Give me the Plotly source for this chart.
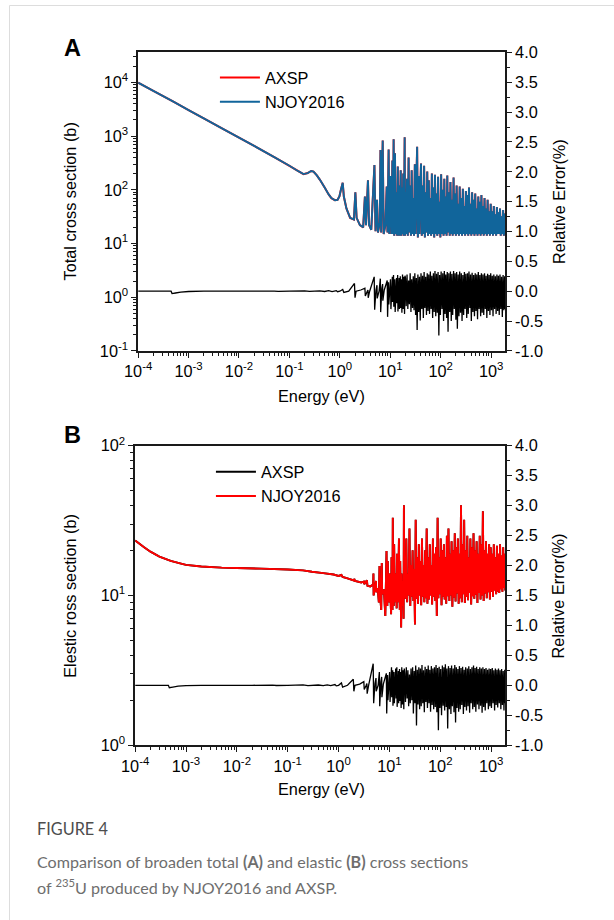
import plotly.graph_objects as go

# ---------------- data ----------------
tick_E = [1e-4, 1e-3, 1e-2, 1e-1, 1e0, 1e1, 1e2, 1e3]
tick_E_text = ["10<sup>-4</sup>", "10<sup>-3</sup>", "10<sup>-2</sup>", "10<sup>-1</sup>",
               "10<sup>0</sup>", "10<sup>1</sup>", "10<sup>2</sup>", "10<sup>3</sup>"]
tick_A_left = [1e-1, 1e0, 1e1, 1e2, 1e3, 1e4]
tick_A_left_text = ["10<sup>-1</sup>", "10<sup>0</sup>", "10<sup>1</sup>", "10<sup>2</sup>",
                    "10<sup>3</sup>", "10<sup>4</sup>"]
tick_B_left = [1e0, 1e1, 1e2]
tick_B_left_text = ["10<sup>0</sup>", "10<sup>1</sup>", "10<sup>2</sup>"]
tick_err = [-1.0, -0.5, 0.0, 0.5, 1.0, 1.5, 2.0, 2.5, 3.0, 3.5, 4.0]
tick_err_text = ["-1.0", "-0.5", "0.0", "0.5", "1.0", "1.5", "2.0", "2.5", "3.0", "3.5", "4.0"]

# --- panel A: total cross section (b) ---
e_smooth_a = [1e-4, 2e-4, 5e-4, 1e-3, 2e-3, 5e-3, 0.01, 0.02, 0.05, 0.1, 0.15, 0.19,
              0.23, 0.27, 0.3, 0.35, 0.4, 0.5, 0.6, 0.68, 0.8, 0.9, 0.98]
xs_smooth_a = [9900, 6960, 4370, 3050, 2140, 1330, 935, 655, 406, 280, 222, 196,
               205, 224, 218, 185, 155, 110, 82, 70, 64, 65, 75]

e_low_res = [1.05, 1.14, 1.2, 1.35, 1.6, 1.9, 2.03, 2.15, 2.5, 2.9, 3.14, 3.3, 3.61, 3.8,
             4.2, 4.85, 5.1, 5.45, 5.7, 6.2, 6.39, 6.6, 7.08, 7.4, 8.0, 8.5, 8.8, 9.28,
             9.6, 10.2, 10.6, 11.0, 11.3, 11.66, 12.0, 12.4, 12.8, 13.3, 13.7, 14.1,
             14.5, 15.0, 15.4, 16.1, 16.6, 17.1, 17.6, 18.1, 18.6, 19.3, 19.6]
xs_low_res_a = [100, 135, 75, 45, 30, 28, 90, 30, 22, 20, 75, 22, 150, 22,
                18, 290, 17, 65, 16, 25, 550, 16, 830, 15, 22, 115, 16, 560,
                15, 180, 15, 350, 15, 870, 14, 480, 15, 90, 14, 270,
                14, 120, 14, 230, 14, 110, 15, 200, 14, 950, 14]

e_dense = [20.0, 20.7, 21.5, 22.3, 23.1, 23.9, 24.8, 25.7, 26.6, 27.6,
           28.6, 29.6, 30.7, 31.8, 32.9, 34.1, 35.3, 36.6, 37.9, 39.3,
           40.7, 42.2, 43.7, 45.3, 46.9, 48.6, 50.4, 52.2, 54.1, 56.0,
           58.0, 60.1, 62.3, 64.5, 66.8, 69.2, 71.7, 74.3, 77.0, 79.8,
           82.7, 85.6, 88.7, 91.9, 95.2, 98.6, 102, 106, 110, 114,
           118, 122, 126, 131, 135, 140, 145, 151, 156, 162,
           167, 173, 180, 186, 193, 200, 207, 214, 222, 230,
           238, 247, 256, 265, 275, 285, 295, 305, 316, 328,
           340, 352, 364, 378, 391, 405, 420, 435, 451, 467,
           484, 501, 519, 538, 557, 577, 598, 620, 642, 665,
           689, 714, 740, 766, 794, 822, 852, 883, 914, 947,
           981, 1016, 1053, 1091, 1130, 1171, 1213, 1257, 1302, 1349,
           1397, 1448, 1500, 1554, 1610, 1668, 1728, 1790, 1855, 1900]
xs_dense_a = [90, 15, 160, 14, 400, 16, 120, 14, 230, 15,
              70, 14, 300, 15, 140, 630, 13, 180, 15, 95,
              310, 14, 120, 15, 280, 13, 90, 16, 220, 14,
              150, 15, 70, 14, 200, 15, 110, 13, 190, 15,
              85, 14, 175, 15, 60, 13, 195, 15, 100, 14,
              160, 15, 75, 14, 185, 16, 90, 14, 140, 15,
              65, 14, 170, 15, 85, 14, 120, 15, 55, 14,
              115, 15, 70, 14, 105, 15, 50, 14, 95, 15,
              80, 14, 110, 15, 55, 14, 90, 15, 65, 14,
              85, 15, 45, 14, 75, 15, 60, 14, 80, 15,
              50, 14, 70, 15, 45, 14, 65, 15, 40, 14,
              55, 15, 40, 14, 50, 15, 35, 14, 48, 15,
              38, 15, 45, 14, 32, 15, 42, 14, 36, 15]

# --- panel A: relative error (%) ---
e_err_smooth = [1e-4, 3e-4, 4.5e-4, 4.7e-4, 5.5e-4, 7e-4, 1e-3, 2e-3, 0.02, 0.05, 0.06,
                0.1, 0.2, 0.25, 0.4, 0.5, 0.6, 0.7, 0.85, 0.9]
err_smooth_a = [0.0, 0.0, 0.0, -0.04, -0.03, -0.015, -0.005, 0.0, 0.0, 0.003, -0.004,
                0.0, 0.005, -0.004, 0.006, -0.005, 0.008, -0.006, 0.01, -0.008]
e_err_low = [1.0, 1.14, 1.2, 1.5, 1.95, 2.0, 2.1, 2.6, 3.14, 3.2, 3.5, 3.61, 3.65, 3.9,
             4.8, 4.9, 5.2, 5.45, 5.5, 6.0, 6.35, 6.45, 6.8, 7.05, 7.12, 7.6, 8.7, 8.85,
             9.2, 9.35, 10.1, 10.3, 11.0, 11.1, 11.6, 11.75, 12.3, 12.5, 13.3, 13.5,
             14.0, 14.2, 15.0, 15.2, 15.8, 16.1, 16.6, 17.0, 17.5, 18.0, 18.6, 19.2, 19.6]
err_low_a = [0.0, 0.03, -0.02, 0.0, 0.13, -0.11, 0.0, 0.02, 0.05, -0.08, 0.0, 0.02, -0.11, 0.0,
             0.24, -0.31, 0.02, 0.1, -0.12, 0.0, 0.21, -0.35, 0.05, 0.12, -0.16, 0.02, 0.18, -0.43,
             0.15, -0.22, 0.2, -0.3, 0.24, -0.18, 0.27, -0.26, 0.2, -0.35, 0.22, -0.2,
             0.27, -0.34, 0.22, -0.3, 0.25, -0.28, 0.2, -0.36, 0.28, -0.3, 0.24, -0.38, 0.26]
err_dense_a = [0.22, -0.25, 0.28, -0.3, 0.18, -0.22, 0.3, -0.35, 0.2, -0.28,
               0.25, -0.32, 0.3, -0.4, 0.22, -0.65, 0.28, -0.35, 0.24, -0.49,
               0.3, -0.3, 0.26, -0.45, 0.32, -0.28, 0.24, -0.4, 0.3, -0.33,
               0.28, -0.38, 0.33, -0.3, 0.26, -0.45, 0.3, -0.35, 0.34, -0.42,
               0.29, -0.36, 0.32, -0.74, 0.27, -0.4, 0.33, -0.3, 0.3, -0.5,
               0.34, -0.38, 0.28, -0.45, 0.32, -0.68, 0.3, -0.35, 0.33, -0.5,
               0.29, -0.4, 0.34, -0.3, 0.3, -0.48, 0.32, -0.63, 0.28, -0.42,
               0.33, -0.36, 0.3, -0.5, 0.27, -0.4, 0.32, -0.3, 0.29, -0.45,
               0.3, -0.38, 0.33, -0.28, 0.28, -0.5, 0.31, -0.35, 0.27, -0.42,
               0.3, -0.33, 0.28, -0.47, 0.32, -0.3, 0.27, -0.42, 0.3, -0.36,
               0.28, -0.4, 0.3, -0.3, 0.26, -0.45, 0.29, -0.33, 0.27, -0.4,
               0.3, -0.32, 0.26, -0.42, 0.28, -0.3, 0.25, -0.38, 0.28, -0.33,
               0.26, -0.4, 0.28, -0.3, 0.24, -0.43, 0.27, -0.32, 0.25, -0.3]

# --- panel B: elastic cross section (b) ---
e_smooth_b = [1e-4, 1.5e-4, 2e-4, 3e-4, 5e-4, 8e-4, 1e-3, 2e-3, 5e-3, 0.01, 0.03, 0.1,
              0.2, 0.3, 0.5, 0.8, 1.0, 1.14, 1.2, 1.5, 2.0, 2.03, 2.1, 2.8, 3.14, 3.2,
              3.61, 3.7, 4.2]
xs_smooth_b = [23.3, 21.0, 19.6, 18.2, 17.0, 16.3, 16.0, 15.6, 15.35, 15.25, 15.1, 14.9,
               14.7, 14.4, 14.1, 13.8, 13.5, 13.7, 13.3, 13.0, 12.6, 12.9, 12.5, 12.2, 12.4, 11.9,
               12.6, 11.6, 11.5]
e_low_res_b = [4.8, 4.85, 4.9, 5.2, 5.45, 5.5, 5.9, 6.2, 6.39, 6.5, 6.9, 7.08, 7.2, 7.8,
               8.3, 8.77, 8.9, 9.1, 9.28, 9.5, 10.0, 10.2, 10.4, 10.8, 11.0, 11.3, 11.5,
               11.66, 11.9, 12.2, 12.4, 12.7, 13.1, 13.3, 13.6, 13.9, 14.1, 14.4, 14.8,
               15.4, 15.7, 16.0, 16.3, 16.6, 17.0, 17.3, 17.8, 18.3, 18.6, 19.0, 19.3, 19.6]
xs_low_res_b = [11.8, 14.0, 10.0, 11.4, 12.5, 10.5, 11.2, 9.0, 15.7, 10.5, 8.0, 16.5, 10.2, 11.0,
                7.3, 19.8, 11.0, 8.5, 17.0, 10.8, 9.0, 14.0, 10.5, 7.5, 18.0, 10.5, 8.0,
                33.0, 11.0, 8.5, 22.0, 10.8, 9.0, 14.0, 11.0, 8.2, 19.0, 11.0, 9.0,
                24.0, 11.5, 8.0, 17.0, 11.0, 6.1, 14.0, 10.5, 8.5, 12.0, 7.0, 40.0, 11.0]
xs_dense_b = [18, 9.5, 24, 9.0, 14, 10, 28, 8.5, 16, 9.8,
              20, 9.2, 15, 6.4, 32, 9.5, 18, 8.8, 22, 10,
              17, 8.6, 24, 9.8, 16, 9.0, 20, 9.6, 28, 8.8,
              18, 9.4, 22, 10, 16, 8.7, 24, 9.8, 19, 9.2,
              21, 7.3, 33, 9.6, 18, 10.2, 24, 8.6, 20, 9.8,
              22, 9.4, 18, 8.8, 25, 9.9, 28, 9.2, 19, 10,
              23, 8.4, 20, 9.7, 26, 9.1, 21, 10.3, 24, 8.8,
              19, 9.6, 40, 9.0, 22, 10.2, 32, 8.9, 20, 9.8,
              25, 9.3, 18, 10.4, 24, 8.7, 21, 9.9, 26, 9.5,
              20, 10.1, 23, 8.9, 19, 10.4, 25, 9.4, 22, 10.0,
              36.5, 9.2, 20, 10.3, 23, 9.6, 19, 10.5, 22, 9.4,
              21, 10.6, 19, 9.8, 22, 10.8, 18, 10.2, 21.5, 10.6,
              19, 10.4, 22, 11, 18.5, 10.6, 21, 11.2, 19, 10.8]

# --- panel B: relative error (%) ---
err_smooth_b = [0.0, 0.0, 0.0, -0.04, -0.03, -0.015, -0.005, 0.0, 0.0, 0.004, -0.003,
                0.0, 0.006, -0.005, 0.005, -0.006, 0.008, -0.005, 0.012, -0.01]
err_low_b = [0.0, 0.04, -0.03, 0.0, 0.1, -0.1, 0.0, 0.02, 0.06, -0.07, 0.0, 0.03, -0.14, 0.0,
             0.36, -0.3, 0.03, 0.12, -0.1, 0.0, 0.22, -0.35, 0.06, 0.14, -0.2, 0.02, 0.2, -0.47,
             0.17, -0.25, 0.22, -0.28, 0.3, -0.2, 0.25, -0.34, 0.22, -0.3, 0.28, -0.22,
             0.3, -0.36, 0.24, -0.3, 0.27, -0.26, 0.22, -0.38, 0.3, -0.32, 0.25, -0.4, 0.28]
err_dense_b = [0.2, -0.28, 0.3, -0.22, 0.25, -0.35, 0.18, -0.3, 0.28, -0.25,
               0.3, -0.47, 0.24, -0.3, 0.33, -0.67, 0.26, -0.32, 0.3, -0.4,
               0.28, -0.35, 0.34, -0.3, 0.25, -0.45, 0.31, -0.28, 0.27, -0.38,
               0.33, -0.3, 0.26, -0.44, 0.32, -0.33, 0.28, -0.4, 0.3, -0.36,
               0.34, -0.45, 0.29, -0.75, 0.31, -0.38, 0.27, -0.5, 0.33, -0.34,
               0.3, -0.42, 0.35, -0.36, 0.28, -0.72, 0.32, -0.4, 0.29, -0.48,
               0.33, -0.35, 0.28, -0.45, 0.34, -0.62, 0.3, -0.38, 0.27, -0.44,
               0.32, -0.4, 0.29, -0.33, 0.31, -0.48, 0.26, -0.36, 0.3, -0.42,
               0.28, -0.35, 0.32, -0.46, 0.27, -0.3, 0.3, -0.4, 0.33, -0.36,
               0.29, -0.44, 0.31, -0.32, 0.27, -0.4, 0.3, -0.34, 0.28, -0.46,
               0.3, -0.36, 0.27, -0.42, 0.29, -0.3, 0.26, -0.4, 0.28, -0.35,
               0.27, -0.38, 0.29, -0.3, 0.25, -0.42, 0.28, -0.33, 0.26, -0.37,
               0.28, -0.3, 0.25, -0.4, 0.27, -0.33, 0.24, -0.42, 0.26, -0.3]

# assemble series
e_a = e_smooth_a + e_low_res + e_dense
xs_a_njoy = xs_smooth_a + xs_low_res_a + xs_dense_a
xs_a_axsp = list(xs_a_njoy)  # the two curves coincide in the picture
e_err = e_err_smooth + e_err_low + e_dense
err_a = err_smooth_a + err_low_a + err_dense_a
e_b = e_smooth_b + e_low_res_b + e_dense
xs_b_njoy = xs_smooth_b + xs_low_res_b + xs_dense_b
xs_b_axsp = list(xs_b_njoy)
err_b = err_smooth_b + err_low_b + err_dense_b

assert len(e_a) == len(xs_a_njoy)
assert len(e_err) == len(err_a) == len(err_b)
assert len(e_b) == len(xs_b_njoy)

# ---------------- figure ----------------
W, H = 614, 920
RED = "#ff0000"
BLUE = "#11659b"
FONT = "Arial, 'Liberation Sans', sans-serif"
# layout positions below are given in picture pixels; these convert them
OX, OY, S = 11.5, 10.5, 0.98


def px_x(p):
    return ((p - OX) / S) / W


def px_y(p):
    return 1 - ((p - OY) / S) / H


def fs(v):
    return round(v / S, 1)


fig = go.Figure()
fig.add_trace(go.Scatter(x=e_a, y=xs_a_axsp, name="AXSP", mode="lines",
                         line=dict(color=RED, width=2.0, simplify=False),
                         xaxis="x", yaxis="y", legend="legend"))
fig.add_trace(go.Scatter(x=e_a, y=xs_a_njoy, name="NJOY2016", mode="lines",
                         line=dict(color=BLUE, width=1.9, simplify=False),
                         xaxis="x", yaxis="y", legend="legend"))
fig.add_trace(go.Scatter(x=e_err, y=err_a, mode="lines", showlegend=False,
                         line=dict(color="black", width=1.3, simplify=False),
                         xaxis="x", yaxis="y2"))
fig.add_trace(go.Scatter(x=e_b, y=xs_b_axsp, name="AXSP", mode="lines",
                         line=dict(color="black", width=1.9, simplify=False),
                         xaxis="x2", yaxis="y3", legend="legend2"))
fig.add_trace(go.Scatter(x=e_b, y=xs_b_njoy, name="NJOY2016", mode="lines",
                         line=dict(color=RED, width=1.9, simplify=False),
                         xaxis="x2", yaxis="y3", legend="legend2"))
fig.add_trace(go.Scatter(x=e_err, y=err_b, mode="lines", showlegend=False,
                         line=dict(color="black", width=1.3, simplify=False),
                         xaxis="x2", yaxis="y4"))

tickfont = dict(family=FONT, size=fs(16), color="black")
common = dict(showline=True, linecolor="#1a1a1a", linewidth=1.5, showgrid=False,
              zeroline=False, ticks="outside", ticklen=5, tickwidth=1.2,
              tickcolor="#1a1a1a", tickfont=tickfont)
minor_log = dict(ticks="outside", ticklen=3, tickwidth=1, tickcolor="#1a1a1a",
                 dtick="D1", showgrid=False)
minor_lin = dict(ticks="outside", ticklen=3, tickwidth=1, tickcolor="#1a1a1a",
                 dtick=0.25, showgrid=False)

xdomA = [px_x(136), px_x(504)]
ydomA = [px_y(351), px_y(52)]
xdomB = [px_x(133), px_x(504)]
ydomB = [px_y(746), px_y(446)]

fig.update_layout(
    width=W, height=H, margin=dict(l=0, r=0, t=0, b=0),
    paper_bgcolor="white", plot_bgcolor="white",
    font=dict(family=FONT, size=fs(16), color="black"),
    xaxis=dict(type="log", range=[-4, 3.277], domain=xdomA, anchor="y",
               tickmode="array", tickvals=tick_E, ticktext=tick_E_text,
               mirror=True, minor=minor_log, **common),
    yaxis=dict(type="log", range=[-1, 4.558], domain=ydomA, anchor="x",
               tickmode="array", tickvals=tick_A_left, ticktext=tick_A_left_text,
               minor=minor_log, **common),
    yaxis2=dict(range=[-1, 4], overlaying="y", side="right", anchor="x",
                tickmode="array", tickvals=tick_err, ticktext=tick_err_text,
                minor=minor_lin, **common),
    xaxis2=dict(type="log", range=[-4, 3.275], domain=xdomB, anchor="y3",
                tickmode="array", tickvals=tick_E, ticktext=tick_E_text,
                mirror=True, minor=minor_log, **common),
    yaxis3=dict(type="log", range=[0, 2], domain=ydomB, anchor="x2",
                tickmode="array", tickvals=tick_B_left, ticktext=tick_B_left_text,
                minor=minor_log, **common),
    yaxis4=dict(range=[-1, 4], overlaying="y3", side="right", anchor="x2",
                tickmode="array", tickvals=tick_err, ticktext=tick_err_text,
                minor=minor_lin, **common),
    legend=dict(x=px_x(213), y=px_y(60), xanchor="left", yanchor="top",
                bgcolor="rgba(0,0,0,0)", font=dict(family=FONT, size=fs(16)),
                itemwidth=40, tracegroupgap=0),
    legend2=dict(x=px_x(209), y=px_y(455), xanchor="left", yanchor="top",
                 bgcolor="rgba(0,0,0,0)", font=dict(family=FONT, size=fs(16)),
                 itemwidth=40, tracegroupgap=0),
)

ann = []


def label(text, x, y, size=16, angle=0, color="black", xanchor="center", family=FONT):
    ann.append(dict(text=text, x=px_x(x), y=px_y(y), xref="paper", yref="paper",
                    showarrow=False, textangle=angle, xanchor=xanchor, yanchor="middle",
                    font=dict(family=family, size=fs(size), color=color)))


label("<b>A</b>", 70, 48, size=23)
label("<b>B</b>", 70, 435, size=23)
label("Total cross section (b)", 68, 201, angle=-90)
label("Relative Error(%)", 558, 201, angle=-90)
label("Energy (eV)", 320, 396)
label("Elestic ross section (b)", 68, 596, angle=-90)
label("Relative Error(%)", 558, 596, angle=-90)
label("Energy (eV)", 320, 790)

CAP = "Lato, 'Open Sans', sans-serif"
label("FIGURE 4", 33, 829, size=16, color="#4d4d4d", xanchor="left", family=CAP)
label("Comparison of broaden total <b>(A)</b> and elastic <b>(B)</b> cross sections",
      33, 863, size=15.8, color="#6e6e6e", xanchor="left", family=CAP)
label("of <sup>235</sup>U produced by NJOY2016 and AXSP.", 33, 888, size=15.8,
      color="#6e6e6e", xanchor="left", family=CAP)
fig.update_layout(annotations=ann)

fig.add_shape(type="rect", xref="paper", yref="paper",
              x0=px_x(7), x1=px_x(700), y0=px_y(1000), y1=px_y(5),
              line=dict(color="#dddddd", width=1), fillcolor="rgba(0,0,0,0)", layer="below")

fig.write_html("out.html", config={"displayModeBar": False},
               post_script="document.body.style.margin='0';document.body.style.overflow='hidden';")
